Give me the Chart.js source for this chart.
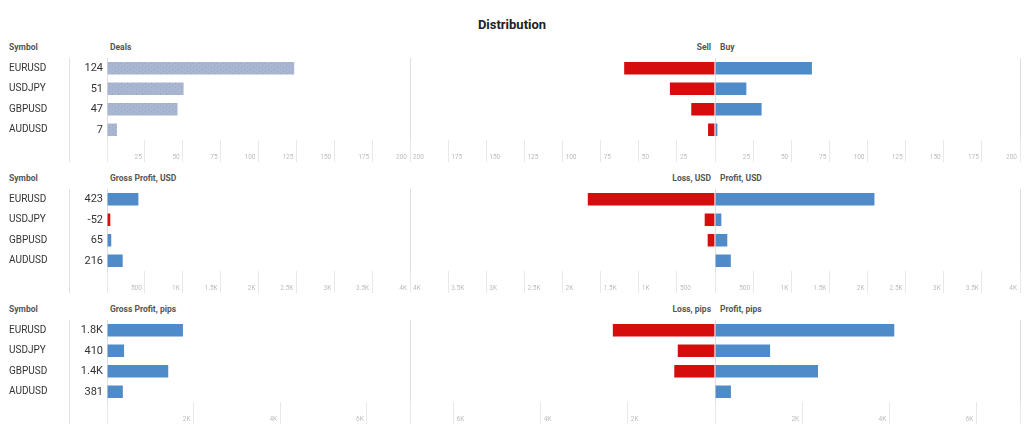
<!DOCTYPE html>
<html>
<head>
<meta charset="utf-8">
<script src="https://cdn.jsdelivr.net/npm/chart.js@4.4.1/dist/chart.umd.min.js"></script>
<style>
  body { margin: 0; background: #fff; }
  #wrap { position: relative; width: 1024px; height: 432px; overflow: hidden; font-family: Roboto, "DejaVu Sans", sans-serif; }
  #wrap canvas { position: absolute; }
  .hdr { position: absolute; white-space: nowrap; line-height: 12px; font-size: 8.5px; font-weight: bold; color: #555; }
  #title { position: absolute; left: 0; width: 1024px; top: 17px; text-align: center; font-size: 13px; font-weight: bold; color: #222; line-height: 16px; }
</style>
</head>
<body>
<div id="wrap"><div id="title">Distribution</div></div>
<script>
const symbols = ["EURUSD", "USDJPY", "GBPUSD", "AUDUSD"];

const deals = [124, 51, 47, 7];
const sellDeals = [60, 30, 16, 5];
const buyDeals = [64, 21, 31, 2];

const grossProfitUsd = [423, -52, 65, 216];
const lossUsd = [1677, 144, 105, 0];
const profitUsd = [2100, 92, 170, 216];

const grossProfitPips = [1770, 410, 1430, 381];
const lossPips = [2360, 870, 950, 0];
const profitPips = [4130, 1280, 2380, 381];

const dealTicks = [0, 25, 50, 75, 100, 125, 150, 175, 200];
const dealTickLabels = ["", "25", "50", "75", "100", "125", "150", "175", "200"];
const usdTicks = [0, 500, 1000, 1500, 2000, 2500, 3000, 3500, 4000];
const usdTickLabels = ["", "500", "1K", "1.5K", "2K", "2.5K", "3K", "3.5K", "4K"];
const pipTicks = [0, 2000, 4000, 6000, 7000];
const pipTickLabels = ["", "2K", "4K", "6K", ""];

const FONT = "Roboto, 'DejaVu Sans', sans-serif";
const BLUE = "#4f8ac9";
const RED = "#d50d0d";
const LINE = "#dedede";
const TICK = "#e8e8e8";
const PANEL_STEP = 131;
const TICK_LEN = 22;

const wrap = document.getElementById("wrap");

function addHeader(text, x, y, alignRight) {
  const d = document.createElement("div");
  d.className = "hdr";
  d.textContent = text;
  d.style.top = (y - 6) + "px";
  if (alignRight) d.style.right = (1024 - x) + "px";
  else d.style.left = x + "px";
  wrap.appendChild(d);
}

function addCanvas(x, y, w, h) {
  const c = document.createElement("canvas");
  c.width = w;
  c.height = h;
  c.style.left = x + "px";
  c.style.top = y + "px";
  wrap.appendChild(c);
  return c;
}

function dotPattern() {
  const p = document.createElement("canvas");
  p.width = 6;
  p.height = 4;
  const g = p.getContext("2d");
  g.fillStyle = "#a9b6d2";
  g.fillRect(0, 0, 6, 4);
  g.fillStyle = "#98a7c8";
  g.fillRect(1, 1, 1, 1);
  g.fillRect(4, 3, 1, 1);
  return g.createPattern(p, "repeat");
}

// short tick marks under the bars; only 0 and max run full height
function xScale(max, tickVals, tickLabels, reverse) {
  return {
    min: 0,
    max: max,
    reverse: reverse,
    afterBuildTicks: s => { s.ticks = tickVals.map(v => ({ value: v })); },
    grid: {
      color: c => (c.tick && (c.tick.value === 0 || c.tick.value === max)) ? LINE : "transparent",
      tickColor: TICK,
      tickLength: TICK_LEN,
      lineWidth: 1
    },
    border: { display: false },
    ticks: {
      display: false,
      autoSkip: false,
      callback: (v, i) => tickLabels[i]
    }
  };
}

// the tick labels sit inside the tick band, beside each mark
const tickText = {
  id: "tickText",
  afterDraw(chart) {
    const s = chart.scales.x;
    const rev = s.options.reverse;
    const ctx = chart.ctx;
    ctx.save();
    ctx.font = "6.5px " + FONT;
    ctx.fillStyle = "#bdbdbd";
    ctx.textBaseline = "middle";
    ctx.textAlign = rev ? "left" : "right";
    s.ticks.forEach((t, i) => {
      if (!t.label) return;
      ctx.fillText(t.label, s.getPixelForTick(i) + (rev ? 3 : -3), chart.chartArea.bottom + 17);
    });
    ctx.restore();
  }
};

// value column + separator line left of the bars
function rowLabels(values, fmt) {
  return {
    id: "rowLabels",
    beforeDraw(chart) {
      const { ctx, chartArea } = chart;
      ctx.save();
      ctx.strokeStyle = "#e2e2e2";
      ctx.lineWidth = 1;
      ctx.beginPath();
      ctx.moveTo(69.5, chartArea.top);
      ctx.lineTo(69.5, chartArea.bottom + TICK_LEN);
      ctx.stroke();
      ctx.restore();
    },
    afterDatasetsDraw(chart) {
      const { ctx, chartArea, scales } = chart;
      ctx.save();
      ctx.font = "11px " + FONT;
      ctx.fillStyle = "#333";
      ctx.textAlign = "right";
      ctx.textBaseline = "middle";
      values.forEach((v, i) => {
        ctx.fillText(fmt(v), chartArea.left - 4, scales.y.getPixelForValue(i));
      });
      ctx.restore();
    }
  };
}

function barChart(canvas, data, colors, scaleX, withLabels, plugins) {
  return new Chart(canvas, {
    type: "bar",
    data: {
      labels: symbols,
      datasets: [{
        data: data,
        backgroundColor: colors,
        borderColor: "rgba(255,255,255,0.35)",
        borderWidth: 1,
        barThickness: 14
      }]
    },
    options: {
      indexAxis: "y",
      responsive: false,
      animation: false,
      events: [],
      layout: { padding: withLabels ? { left: 9, right: 1 } : { right: 1 } },
      plugins: { legend: { display: false }, tooltip: { enabled: false } },
      scales: {
        x: scaleX,
        y: withLabels ? {
          afterFit: s => { s.width = 98; s.paddingTop = 0; s.paddingBottom = 0; },
          grid: { display: false },
          border: { display: false },
          ticks: { crossAlign: "far", padding: 0, color: "#333", font: { size: 10, family: FONT } }
        } : { display: false }
      }
    },
    plugins: [tickText].concat(plugins)
  });
}

function fmtPips(v) {
  return Math.abs(v) >= 1000 ? (v / 1000).toFixed(1) + "K" : String(v);
}

const panels = [
  {
    leftTitle: "Deals", sideTitles: ["Sell", "Buy"],
    left: deals, leftFmt: v => String(v), sell: sellDeals, buy: buyDeals,
    max: 200, ticks: dealTicks, tickLabels: dealTickLabels, pattern: true
  },
  {
    leftTitle: "Gross Profit, USD", sideTitles: ["Loss, USD", "Profit, USD"],
    left: grossProfitUsd, leftFmt: v => String(v), sell: lossUsd, buy: profitUsd,
    max: 4000, ticks: usdTicks, tickLabels: usdTickLabels
  },
  {
    leftTitle: "Gross Profit, pips", sideTitles: ["Loss, pips", "Profit, pips"],
    left: grossProfitPips, leftFmt: fmtPips, sell: lossPips, buy: profitPips,
    max: 7000, ticks: pipTicks, tickLabels: pipTickLabels
  }
];

panels.forEach((p, k) => {
  const off = k * PANEL_STEP;
  addHeader("Symbol", 9, 47 + off);
  addHeader(p.leftTitle, 110, 47 + off);
  addHeader(p.sideTitles[0], 711, 47 + off, true);
  addHeader(p.sideTitles[1], 720, 47 + off);

  const top = 58 + off;
  const h = 82 + TICK_LEN;
  const leftColors = p.pattern ? dotPattern() : p.left.map(v => v < 0 ? RED : BLUE);
  barChart(addCanvas(0, top, 411, h), p.left.map(v => Math.abs(v)), leftColors,
    xScale(p.max, p.ticks, p.tickLabels, false), true, [rowLabels(p.left, p.leftFmt)]);
  barChart(addCanvas(410, top, 306, h), p.sell, RED,
    xScale(p.max, p.ticks, p.tickLabels, true), false, []);
  barChart(addCanvas(715, top, 306, h), p.buy, BLUE,
    xScale(p.max, p.ticks, p.tickLabels, false), false, []);
});
</script>
</body>
</html>
